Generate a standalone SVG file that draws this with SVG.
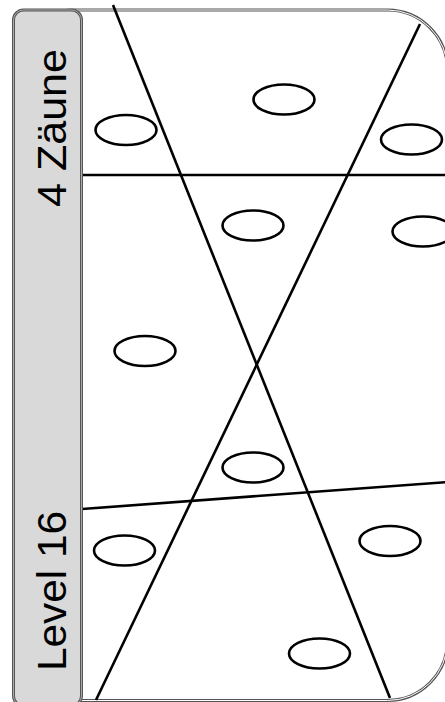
<svg xmlns="http://www.w3.org/2000/svg" width="445" height="702" viewBox="0 0 445 702">
<style>
.ln{stroke:#000;stroke-width:2.6;fill:none;stroke-linecap:butt}
.el{stroke:#000;stroke-width:2.6;fill:#fff}
.lbl{font-family:"Liberation Sans",Arial,sans-serif;font-size:40px;fill:#000}
</style>
<g id="card">
<rect x="13.5" y="10" width="434" height="690.5" rx="60" ry="60" fill="#fff" stroke="#555" stroke-width="3"/>
<rect x="13.5" y="10" width="434" height="690.5" rx="60" ry="60" fill="none" stroke="#fff" stroke-width="1"/>
</g>
<g id="connectors">
<line class="ln" x1="113" y1="5" x2="390" y2="698"/>
<line class="ln" x1="420" y1="24" x2="96" y2="700"/>
<line class="ln" x1="82" y1="175" x2="448" y2="175"/>
<line class="ln" x1="82" y1="509" x2="448" y2="482"/>
</g>
<g id="ellipses">
<ellipse class="el" cx="126" cy="130" rx="30.5" ry="15"/>
<ellipse class="el" cx="284" cy="99.5" rx="30.5" ry="15"/>
<ellipse class="el" cx="411.5" cy="139.5" rx="30.5" ry="15"/>
<ellipse class="el" cx="253" cy="225.5" rx="30.5" ry="15"/>
<ellipse class="el" cx="423" cy="231.5" rx="30.5" ry="15"/>
<ellipse class="el" cx="145" cy="351" rx="30.5" ry="15"/>
<ellipse class="el" cx="253" cy="467.5" rx="30.5" ry="15"/>
<ellipse class="el" cx="124.5" cy="550.5" rx="30.5" ry="15"/>
<ellipse class="el" cx="390" cy="541" rx="30.5" ry="15"/>
<ellipse class="el" cx="319.5" cy="653.5" rx="30.5" ry="15"/>
</g>
<g id="sidebar">
<rect x="13.5" y="10" width="68" height="696" rx="10" ry="10" fill="#d9d9d9" stroke="#555" stroke-width="3"/>
<rect x="13.5" y="10" width="68" height="696" rx="10" ry="10" fill="none" stroke="#aaa" stroke-width="1"/>
<text class="lbl" transform="translate(66,207) rotate(-90)" textLength="158" lengthAdjust="spacingAndGlyphs">4 Zäune</text>
<text class="lbl" transform="translate(66,671) rotate(-90)" textLength="160" lengthAdjust="spacingAndGlyphs">Level 16</text>
</g>
</svg>
